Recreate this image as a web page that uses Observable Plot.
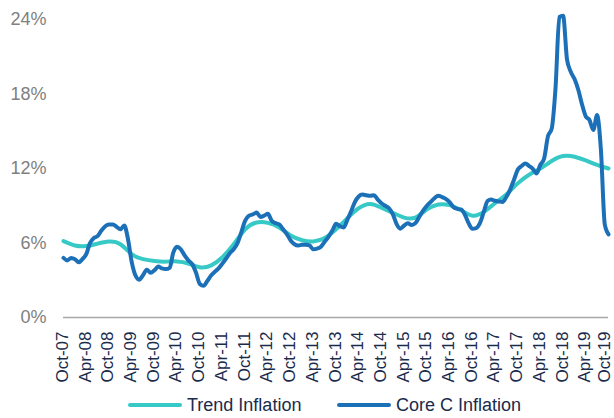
<!DOCTYPE html>
<html>
<head>
<meta charset="utf-8">
<script src="https://cdn.jsdelivr.net/npm/d3@7"></script>
<script src="https://cdn.jsdelivr.net/npm/@observablehq/plot@0.6"></script>
<style>
  body { margin: 0; background: #fff; font-family: "Liberation Sans", Arial, sans-serif; }
  #legend { position: relative; height: 26px; }
  .item { position: absolute; top: 0; display: flex; align-items: center; height: 26px; font-size: 18px; color: #1a2b4c; }
  .sw { width: 54px; height: 4px; margin-right: 5px; border-radius: 2px; }
</style>
</head>
<body>
<div id="chart"></div>
<div id="legend"></div>
<script>
// Monthly observations starting Oct-07
const startMonth = "Oct-07";
const coreC = [
  4.8, 4.6, 4.8, 4.7, 4.45, 4.7, 5.1, 6.0, 6.4, 6.55,
  7.0, 7.35, 7.5, 7.5, 7.3, 7.1, 7.4, 6.4, 4.5, 3.4,
  3.05, 3.4, 3.85, 3.6, 3.8, 4.1, 3.95, 3.9, 4.0, 5.2,
  5.7, 5.5, 5.0, 4.6, 4.3, 3.6, 2.7, 2.55, 2.95, 3.4,
  3.7, 3.95, 4.35, 4.75, 5.2, 5.5, 6.0, 6.9, 7.8, 8.2,
  8.3, 8.45, 8.1, 8.2, 8.35, 7.8, 7.6, 7.5, 7.1, 6.7,
  6.2, 5.9, 5.8, 5.85, 5.85, 5.8, 5.5, 5.55, 5.7, 6.1,
  6.5, 7.0, 7.55, 7.35, 7.25, 7.9, 8.6, 9.3, 9.75, 9.9,
  9.85, 9.8, 9.85, 9.5, 9.2, 9.0, 8.8, 8.3, 7.5, 7.15,
  7.4, 7.6, 7.45, 7.6, 8.1, 8.6, 9.0, 9.3, 9.6, 9.8,
  9.7, 9.55, 9.3, 8.9, 8.75, 8.7, 8.3, 7.6, 7.15, 7.2,
  7.6, 8.5, 9.4, 9.5, 9.4, 9.35, 9.3, 9.7, 10.3, 11.1,
  11.9, 12.2, 12.4, 12.2, 11.95, 11.6, 12.3, 12.8, 14.6, 15.2,
  18.5, 24.2, 24.3, 20.8, 19.8, 19.2, 18.3, 17.2, 16.2, 15.9,
  15.1, 16.3, 13.5, 7.5, 6.7
];
// Quarterly readings of the trend, starting Oct-07
const trendInflation = [
  6.15, 5.8, 5.75, 5.95, 6.12, 5.9, 5.1, 4.7, 4.55, 4.5,
  4.52, 4.35, 4.05, 4.2, 4.85, 5.9, 7.1, 7.65, 7.62, 7.25,
  6.6, 6.22, 6.12, 6.4, 7.1, 8.0, 8.8, 9.15, 8.85, 8.42,
  8.05, 8.05, 8.7, 9.1, 9.05, 8.65, 8.2, 8.5, 9.2, 9.9,
  10.8, 11.5, 12.0, 12.6, 13.0, 12.95, 12.65, 12.3, 12.0
];
const tickLabels = ["Oct-07","Apr-08","Oct-08","Apr-09","Oct-09","Apr-10","Oct-10","Apr-11","Oct-11","Apr-12","Oct-12","Apr-13","Oct-13","Apr-14","Oct-14","Apr-15","Oct-15","Apr-16","Oct-16","Apr-17","Oct-17","Apr-18","Oct-18","Apr-19","Oct-19"];
const yTicks = [0, 6, 12, 18, 24];
const seriesNames = ["Trend Inflation", "Core C Inflation"];
const seriesColors = ["#36c9c6", "#1c70b7"];

const parse = d3.utcParse("%b-%y");
const fmt = d3.utcFormat("%b-%y");
const start = parse(startMonth);
const xTicks = tickLabels.map(parse);
const coreData = coreC.map((v, i) => ({date: d3.utcMonth.offset(start, i), value: v}));
const trendData = trendInflation.map((v, i) => ({date: d3.utcMonth.offset(start, i * 3), value: v}));

const xAxisOpts = {tickFormat: fmt, tickRotate: -90, tickSize: 0, tickPadding: 14, fontSize: 17, fill: "#1a2b4c", label: null};

const chart = Plot.plot({
  width: 614,
  height: 392,
  marginLeft: 63,
  marginRight: 6,
  marginTop: 19,
  marginBottom: 75,
  style: {fontFamily: '"Liberation Sans", Arial, sans-serif', background: "#fff"},
  x: {type: "utc", domain: [xTicks[0], xTicks[xTicks.length - 1]]},
  y: {domain: [0, 24]},
  marks: [
    Plot.axisY({ticks: yTicks, tickFormat: d => d + "%", tickSize: 0, tickPadding: 17, fontSize: 18, fill: "#808080", label: null}),
    Plot.axisX({...xAxisOpts, ticks: xTicks.slice(0, -1), dx: -1}),
    Plot.axisX({...xAxisOpts, ticks: xTicks.slice(-1), dx: -4}),
    Plot.ruleY([0], {stroke: "#a6a6a6", strokeWidth: 1.3}),
    Plot.line(trendData, {x: "date", y: "value", stroke: seriesColors[0], strokeWidth: 4, curve: "natural"}),
    Plot.line(coreData, {x: "date", y: "value", stroke: seriesColors[1], strokeWidth: 4, curve: "monotone-x"})
  ]
});
document.getElementById("chart").appendChild(chart);

const legend = document.getElementById("legend");
const lefts = [128, 337];
seriesNames.forEach((name, i) => {
  const item = document.createElement("div");
  item.className = "item";
  item.style.left = lefts[i] + "px";
  const sw = document.createElement("span");
  sw.className = "sw";
  sw.style.background = seriesColors[i];
  const t = document.createElement("span");
  t.textContent = name;
  item.appendChild(sw);
  item.appendChild(t);
  legend.appendChild(item);
});
</script>
</body>
</html>
